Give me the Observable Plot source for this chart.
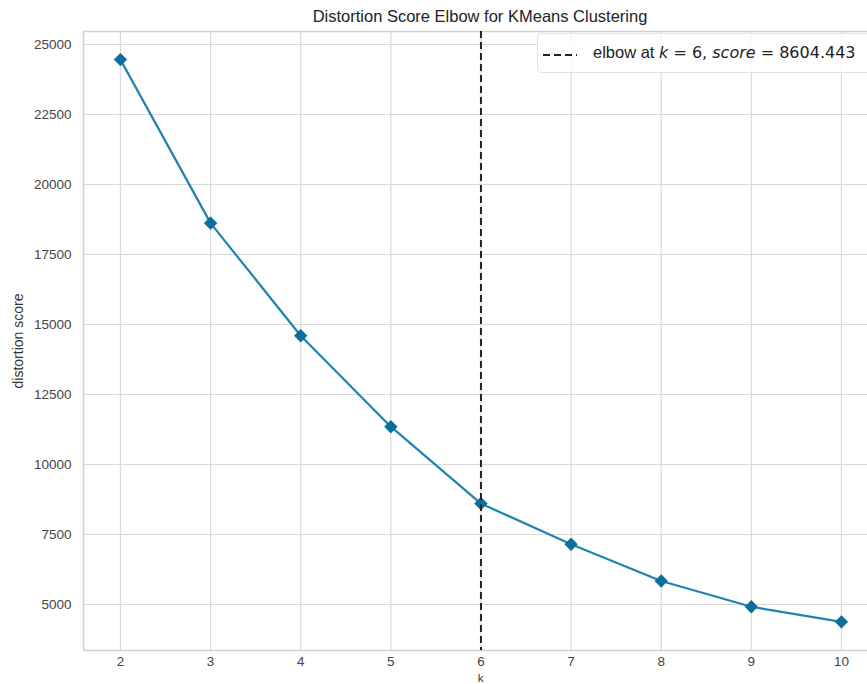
<!DOCTYPE html>
<html>
<head>
<meta charset="utf-8">
<script src="https://cdn.jsdelivr.net/npm/d3@7"></script>
<script src="https://cdn.jsdelivr.net/npm/@observablehq/plot@0.6"></script>
<style>
  html, body { margin: 0; padding: 0; background: #fff; }
  #wrap { position: relative; width: 867px; height: 684px; overflow: hidden; font-family: "Liberation Sans", Arial, sans-serif; }
  #title { height: 30px; line-height: 32px; font-size: 16.5px; color: #222; text-align: center; width: 794px; margin-left: 83px; white-space: nowrap; }
  #chart svg { max-width: none !important; }
  #legend { position: absolute; left: 537px; top: 33px; width: 340px; height: 40px; box-sizing: border-box;
    border: 1px solid #e4e4e4; border-radius: 4px; background: rgba(255,255,255,0.85); }
  #legend svg { position: absolute; left: 5px; top: 15px; }
  #legend .txt { position: absolute; left: 55px; top: 9px; font-size: 16.5px; color: #222; white-space: nowrap; }
  #legend .m { font-family: "DejaVu Sans", sans-serif; font-size: 16px; }
  #legend .mi { font-family: "DejaVu Sans", sans-serif; font-style: italic; font-size: 16px; }
</style>
</head>
<body>
<div id="wrap">
  <div id="title"></div>
  <div id="chart"></div>
  <div id="legend"></div>
</div>
<script>
const ks = [2, 3, 4, 5, 6, 7, 8, 9, 10];
const scores = [24460, 18620, 14600, 11350, 8604.443, 7150, 5840, 4920, 4380];
const elbowK = 6;
const elbowScore = 8604.443;
const xTicks = [2, 3, 4, 5, 6, 7, 8, 9, 10];
const yTicks = [5000, 7500, 10000, 12500, 15000, 17500, 20000, 22500, 25000];
const title = "Distortion Score Elbow for KMeans Clustering";
const xLabel = "k";
const yLabel = "distortion score";

document.getElementById("title").textContent = title;
const data = ks.map((k, i) => ({k, score: scores[i]}));

const lineColor = "#1f84b0";
const markColor = "#0a6f9c";

const chart = Plot.plot({
  width: 877,
  height: 654,
  marginLeft: 83,
  marginRight: 0,
  marginTop: 1,
  marginBottom: 34,
  style: {fontFamily: "'Liberation Sans', Arial, sans-serif", fontSize: "13.5px", color: "#444", background: "transparent"},
  x: {domain: [1.59, 10.4], ticks: xTicks, tickSize: 0, tickPadding: 6, label: xLabel, labelAnchor: "center", labelArrow: "none", labelOffset: 31},
  y: {domain: [3357, 25464], ticks: yTicks, tickSize: 0, tickPadding: 12, tickFormat: d => String(d), label: yLabel, labelAnchor: "center", labelArrow: "none", labelOffset: 70},
  marks: [
    Plot.gridX(xTicks, {stroke: "#d9d9d9", strokeOpacity: 1, strokeWidth: 1.2}),
    Plot.gridY(yTicks, {stroke: "#d9d9d9", strokeOpacity: 1, strokeWidth: 1.2}),
    Plot.frame({stroke: "#d0d0d0", strokeWidth: 1.5}),
    Plot.line(data, {x: "k", y: "score", stroke: lineColor, strokeWidth: 2.2}),
    Plot.dot(data, {x: "k", y: "score", symbol: "diamond2", r: 5.8, fill: markColor, stroke: markColor, strokeWidth: 0.5}),
    Plot.ruleX([elbowK], {stroke: "#222", strokeWidth: 2, strokeDasharray: "7,4"})
  ]
});
chart.style.display = "block";
chart.style.maxWidth = "none";
document.getElementById("chart").appendChild(chart);
chart.querySelectorAll("g[aria-label='y-axis label'] text").forEach(t => {
  t.style.fontSize = "14px";
  t.setAttribute("fill", "#333");
});
chart.querySelectorAll("g[aria-label='x-axis label'] text").forEach(t => {
  t.style.fontSize = "11.5px";
  t.setAttribute("fill", "#333");
});

const lg = document.getElementById("legend");
lg.innerHTML = `<svg width="40" height="12"><line x1="0" y1="6" x2="34" y2="6" stroke="#222" stroke-width="2" stroke-dasharray="7,4"/></svg>` +
  `<span class="txt">elbow at <span class="mi">k</span><span class="m"> = ${elbowK}, </span><span class="mi">score</span><span class="m"> = ${elbowScore.toFixed(3)}</span></span>`;
</script>
</body>
</html>
